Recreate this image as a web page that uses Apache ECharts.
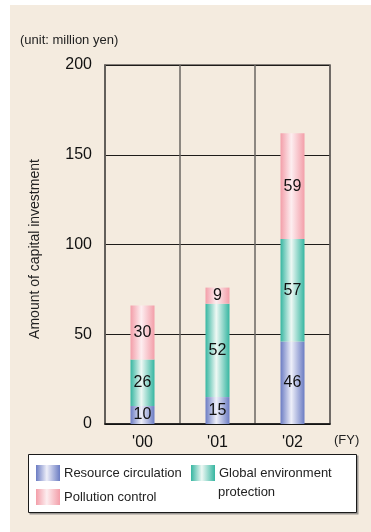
<!DOCTYPE html>
<html>
<head>
<meta charset="utf-8">
<script src="https://cdn.jsdelivr.net/npm/echarts@6/dist/echarts.min.js"></script>
<style>
  html, body { margin: 0; padding: 0; background: #ffffff; }
  #chart { width: 371px; height: 532px; }
</style>
</head>
<body>
<div id="chart"></div>
<script>
// Capital investment by category, fiscal years 2000-2002 (million yen)
const years = ["'00", "'01", "'02"];
const resourceCirculation = [10, 15, 46];
const globalEnvironment = [26, 52, 57];
const pollutionControl = [30, 9, 59];
const yTicks = { min: 0, max: 200, interval: 50 };

const FONT = '"Liberation Sans", Arial, Helvetica, sans-serif';

// Horizontal "cylinder" shading: dark edges, pale centre
function shade(edge, light) {
  return new echarts.graphic.LinearGradient(0, 0, 1, 0, [
    { offset: 0, color: edge },
    { offset: 0.45, color: light },
    { offset: 1, color: edge }
  ]);
}

const blueFill = shade('#6b7cc3', '#eeeff9');
const tealFill = shade('#36b6a1', '#eef8f4');
const pinkFill = shade('#f39ea9', '#fdeef0');

const chart = echarts.init(document.getElementById('chart'), null, { renderer: 'canvas' });

const valueLabel = {
  show: true,
  position: 'inside',
  color: '#111',
  fontSize: 16,
  fontFamily: FONT
};

function barSeries(name, data, fill) {
  return {
    name: name,
    type: 'bar',
    stack: 'total',
    data: data,
    barWidth: 24,
    itemStyle: { color: fill },
    label: valueLabel,
    emphasis: { disabled: true }
  };
}

const legendBase = {
  orient: 'horizontal',
  icon: 'rect',
  itemWidth: 24,
  itemHeight: 16,
  itemGap: 0,
  padding: 0,
  selectedMode: false,
  textStyle: { fontSize: 13, color: '#222', fontFamily: FONT, padding: [0, 0, 0, -1] }
};

chart.setOption({
  animation: false,
  backgroundColor: '#ffffff',
  textStyle: { fontFamily: FONT },
  grid: {
    left: 105, right: 41, top: 65, bottom: 108,
    show: true,
    borderColor: '#5f5b57',
    borderWidth: 1.5,
    backgroundColor: 'transparent'
  },
  xAxis: {
    type: 'category',
    data: years,
    axisLine: { show: true, lineStyle: { color: '#111', width: 1.5 } },
    axisTick: { show: false },
    axisLabel: { color: '#111', fontSize: 16, fontFamily: FONT, margin: 11 },
    splitLine: { show: true, lineStyle: { color: '#6a6662', width: 1.5 } }
  },
  yAxis: {
    type: 'value',
    min: yTicks.min,
    max: yTicks.max,
    interval: yTicks.interval,
    axisLine: { show: true, lineStyle: { color: '#5f5b57', width: 1.5 } },
    axisTick: { show: false },
    axisLabel: { color: '#111', fontSize: 16, fontFamily: FONT, margin: 13 },
    splitLine: { show: true, lineStyle: { color: '#1e1c1a', width: 1.2 } }
  },
  legend: [
    Object.assign({}, legendBase, { data: ['Resource circulation'], left: 36, top: 465 }),
    Object.assign({}, legendBase, {
      data: ['Global environment protection'], left: 191, top: 465,
      formatter: function () { return 'Global environment'; }
    }),
    Object.assign({}, legendBase, { data: ['Pollution control'], left: 36, top: 489 })
  ],
  graphic: [
    // page panel
    { type: 'rect', z: -10, silent: true,
      shape: { x: 10, y: 5, width: 361, height: 527 },
      style: { fill: '#f4ebdf' } },
    // legend frame with a soft drop shadow
    { type: 'rect', z: -5, silent: true,
      shape: { x: 29.5, y: 455.5, width: 329, height: 59 },
      style: { fill: '#9a9692' } },
    { type: 'rect', z: -4, silent: true,
      shape: { x: 28.5, y: 454.5, width: 328, height: 58 },
      style: { fill: '#ffffff', stroke: '#1a1a1a', lineWidth: 1 } },
    { type: 'text', silent: true, left: 218, top: 486,
      style: { text: 'protection', fill: '#222', font: '13px ' + FONT } },
    // unit note
    { type: 'text', silent: true, left: 20, top: 34,
      style: { text: '(unit: million yen)', fill: '#222', font: '13px ' + FONT } },
    // fiscal-year marker
    { type: 'text', silent: true, left: 334, top: 434,
      style: { text: '(FY)', fill: '#222', font: '13px ' + FONT } },
    // value-axis title
    { type: 'text', silent: true, x: 35, y: 249, rotation: Math.PI / 2,
      style: { text: 'Amount of capital investment', fill: '#222',
        font: '14px ' + FONT, align: 'center', verticalAlign: 'middle' } }
  ],
  series: [
    barSeries('Resource circulation', resourceCirculation, blueFill),
    barSeries('Global environment protection', globalEnvironment, tealFill),
    barSeries('Pollution control', pollutionControl, pinkFill)
  ]
});
</script>
</body>
</html>
